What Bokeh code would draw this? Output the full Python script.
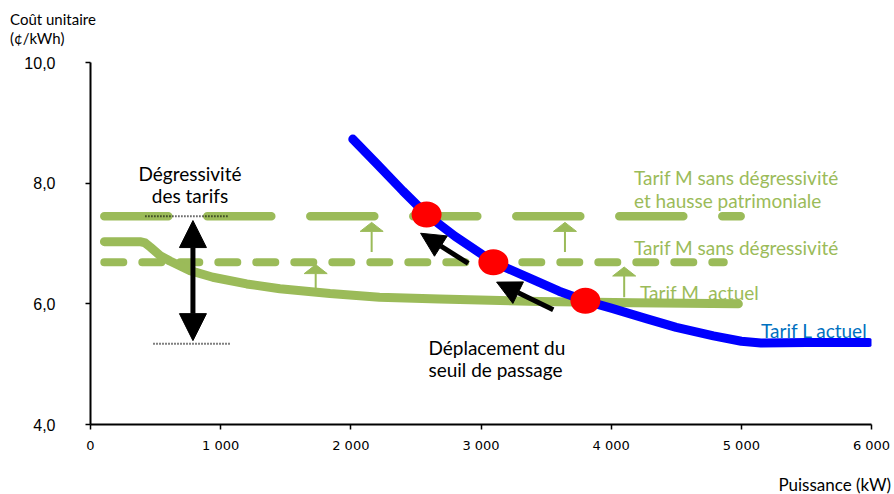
from bokeh.plotting import figure
from bokeh.models import Range1d, FixedTicker, Label, Arrow, NormalHead, ColumnDataSource
from bokeh.embed import file_html
from bokeh.resources import INLINE

# ---------------- data ----------------
x_ticks = [0, 1000, 2000, 3000, 4000, 5000, 6000]
x_tick_labels = ["0", "1 000", "2 000", "3 000", "4 000", "5 000", "6 000"]
y_ticks = [4, 6, 8, 10]
y_tick_labels = ["4,0", "6,0", "8,0", "10,0"]

# Tarif L actuel (blue curve)
tarif_l_x = [2015, 2200, 2400, 2582, 2800, 3000, 3095, 3400, 3600, 3802, 4000, 4276, 4500, 4786, 5000, 5150, 5500, 5980]
tarif_l_y = [8.73, 8.32, 7.87, 7.48, 7.12, 6.83, 6.69, 6.40, 6.21, 6.05, 5.93, 5.75, 5.61, 5.47, 5.38, 5.35, 5.36, 5.36]

# Tarif M actuel (green solid curve)
tarif_m_x = [107, 380, 420, 460, 535, 610, 765, 940, 1200, 1455, 1840, 2220, 2680, 3450, 4170, 4977]
tarif_m_y = [7.03, 7.03, 7.01, 6.94, 6.80, 6.71, 6.55, 6.44, 6.33, 6.25, 6.17, 6.11, 6.08, 6.04, 6.02, 6.00]

# Tarif M sans dégressivité (flat dashed)
m_flat_x = [106, 4865]
m_flat_y = [6.69, 6.69]

# Tarif M sans dégressivité et hausse patrimoniale (flat long dashes)
m_hausse_x = [106, 4995]
m_hausse_y = [7.45, 7.45]

# switching thresholds (red points)
seuil_x = [2582, 3095, 3802]
seuil_y = [7.48, 6.69, 6.05]

# small green "increase" arrows
up_x = [1730, 2160, 3645, 4100]
up_y0 = [6.25, 6.86, 6.86, 6.11]
up_y1 = [6.65, 7.35, 7.35, 6.61]

# black arrows: threshold displacement
shift_x0 = [2902, 3555]
shift_y0 = [6.67, 5.90]
shift_x1 = [2536, 3120]
shift_y1 = [7.17, 6.36]

# degressivity double arrow and dotted guides
degr_x = [787]
degr_y0 = [5.39]
degr_y1 = [7.38]
guide_x0 = [422, 484]
guide_x1 = [1052, 1075]
guide_y = [7.45, 5.34]

GREEN = "#9BBB59"
BLUE = "#0000FF"
RED = "#FF0000"
TXT_BLUE = "#0070C0"
FONT = "Lato"

# ---------------- figure ----------------
p = figure(width=894, height=494, x_range=Range1d(0, 6000), y_range=Range1d(4, 10),
           output_backend="svg", toolbar_location=None,
           min_border_left=90, min_border_right=23, min_border_top=62, min_border_bottom=70)
p.outline_line_color = None
p.xgrid.grid_line_color = None
p.ygrid.grid_line_color = None
p.background_fill_color = "white"
p.border_fill_color = "white"

for ax in (p.xaxis[0], p.yaxis[0]):
    ax.axis_line_width = 2
    ax.axis_line_color = "black"
    ax.major_tick_out = 5
    ax.major_tick_in = 0
    ax.major_tick_line_width = 1.5
    ax.minor_tick_line_color = None
    ax.major_label_text_color = "black"

p.xaxis.ticker = FixedTicker(ticks=x_ticks)
p.xaxis.major_label_overrides = {t: l for t, l in zip(x_ticks, x_tick_labels)}
p.xaxis.major_label_text_font = "DejaVu Sans"
p.xaxis.major_label_text_font_size = "13px"
p.xaxis.major_label_standoff = 8

p.yaxis.ticker = FixedTicker(ticks=y_ticks)
p.yaxis.major_label_overrides = {t: l for t, l in zip(y_ticks, y_tick_labels)}
p.yaxis.major_label_text_font = "Liberation Sans"
p.yaxis.major_label_text_font_size = "16px"
p.yaxis.major_label_standoff = 30

# ---------------- green tariff M lines ----------------
p.line(m_hausse_x, m_hausse_y, line_color=GREEN, line_width=8.5, line_dash="64 39", line_cap="round")
p.line(m_flat_x, m_flat_y, line_color=GREEN, line_width=8, line_dash="19 19", line_cap="round")
p.line(tarif_m_x, tarif_m_y, line_color=GREEN, line_width=9, line_cap="round", line_join="round")

# small green arrows (shaft + flat triangular head)
PX_PER_KW = 781 / 6000.0
PX_PER_Y = 362 / 6.0
hw = 11.5 / PX_PER_KW
hh = 9.0 / PX_PER_Y
p.segment(x0=up_x, y0=up_y0, x1=up_x, y1=[y - hh for y in up_y1], line_color=GREEN, line_width=2)
p.patches(xs=[[x - hw, x, x + hw] for x in up_x],
          ys=[[y - hh, y, y - hh] for y in up_y1],
          fill_color=GREEN, line_color=GREEN, line_width=1)

# ---------------- blue tariff L ----------------
p.line(tarif_l_x, tarif_l_y, line_color=BLUE, line_width=9, line_cap="round", line_join="round")

# red threshold points
p.ellipse(x=seuil_x, y=seuil_y, width=30, height=26, width_units="screen", height_units="screen",
          fill_color=RED, line_color=None)

# dotted guides
p.segment(x0=guide_x0, y0=guide_y, x1=guide_x1, y1=guide_y, line_color="black", line_width=2, line_dash="1 2")

# black arrows
src_shift = ColumnDataSource(dict(x0=shift_x0, y0=shift_y0, x1=shift_x1, y1=shift_y1))
p.add_layout(Arrow(end=NormalHead(size=24, fill_color="black", line_color="black"),
                   x_start="x0", y_start="y0", x_end="x1", y_end="y1", source=src_shift,
                   line_color="black", line_width=5))
src_degr = ColumnDataSource(dict(x=degr_x, y0=degr_y0, y1=degr_y1))
p.add_layout(Arrow(start=NormalHead(size=27, fill_color="black", line_color="black"),
                   end=NormalHead(size=27, fill_color="black", line_color="black"),
                   x_start="x", y_start="y0", x_end="x", y_end="y1", source=src_degr,
                   line_color="black", line_width=5))

# ---------------- texts ----------------
def lab(x, y, text, color="black", size="19px", align="left", font=FONT, place=None):
    l = Label(x=x, y=y, text=text, text_color=color, text_font=font,
              text_font_size=size, text_align=align, text_baseline="alphabetic")
    if place is None:
        p.add_layout(l)
    else:
        p.add_layout(l, place)

# axis titles, outside the frame: put in side panels so they are not clipped
lab(-618, 10.72, "Coût unitaire", size="15px", place="above")
lab(-618, 10.40, "(¢/kWh)", size="15px", place="above")
lab(6150, 3.00, "Puissance (kW)", size="17px", align="right", place="below")

lab(764, 8.16, "Dégressivité", align="center")
lab(764, 7.80, "des tarifs", align="center")
lab(4175, 8.10, "Tarif M sans dégressivité", color=GREEN)
lab(4175, 7.71, "et hausse patrimoniale", color=GREEN)
lab(4175, 6.94, "Tarif M sans dégressivité", color=GREEN)
lab(4222, 6.19, "Tarif M\u2002actuel", color=GREEN)
lab(5151, 5.56, "Tarif L actuel", color=TXT_BLUE)
lab(2596, 5.27, "Déplacement du")
lab(2596, 4.91, "seuil de passage")

open("out.html", "w").write(file_html(p, INLINE))
